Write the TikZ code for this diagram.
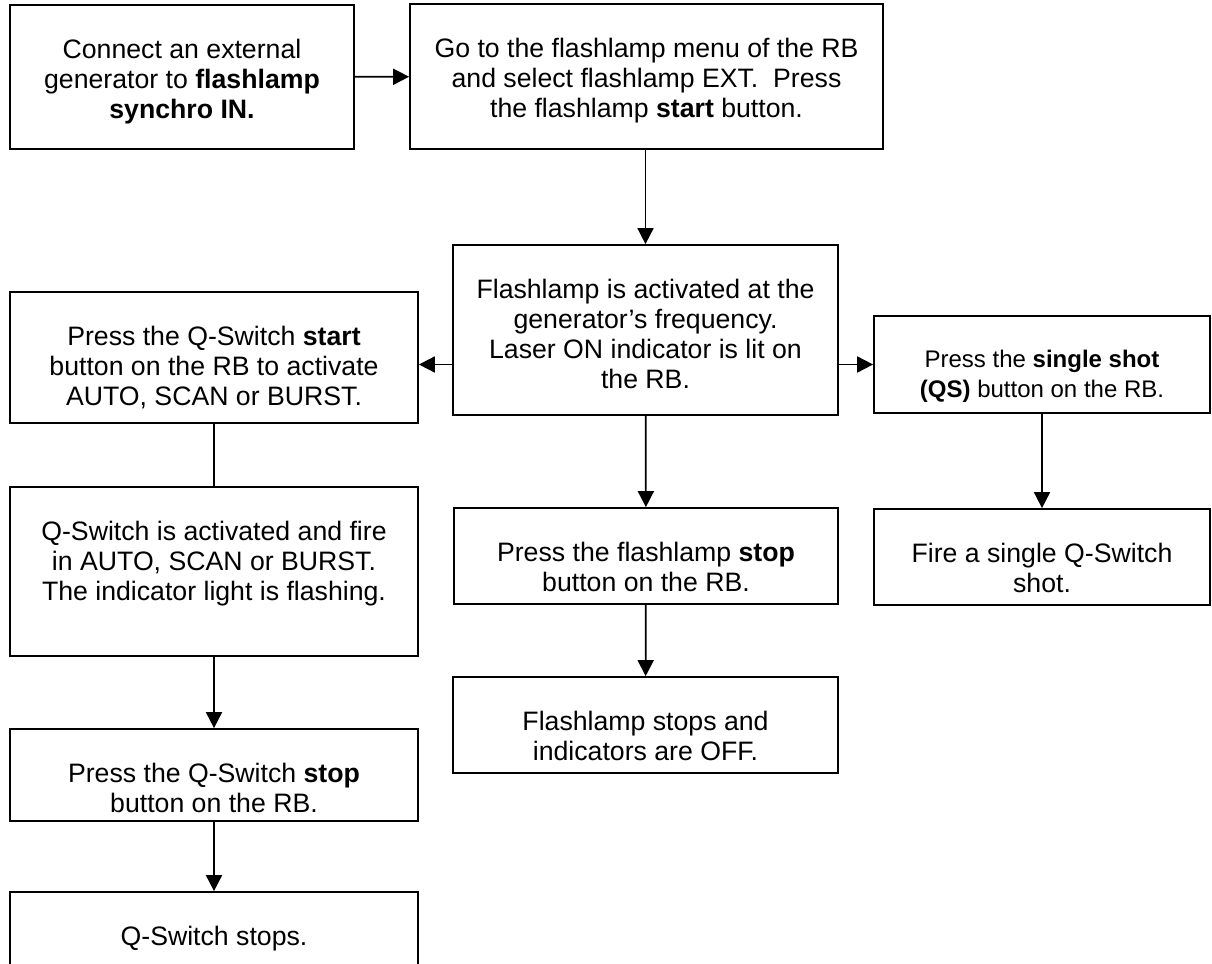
\documentclass[tikz,border=0pt]{standalone}
\usepackage{fontspec}
\setmainfont{Liberation Sans}
\usepackage{tikz}
\usetikzlibrary{arrows.meta}
\tikzset{
  box/.style 2 args={draw, line width=1.3pt, inner sep=0pt,
    minimum width=#1*0.75pt, minimum height=#2*0.75pt},
  words/.style={align=center, inner sep=0pt, anchor=north, yshift=-35*0.75pt,
    font=\fontsize{20}{22.5}\selectfont},
  say/.style={label={[words]north:#1}},
  saysmall/.style={label={[words, font=\fontsize{18}{22.5}\selectfont]north:#1}},
  flow/.style={line width=1.3pt, -{Triangle[length=12pt,width=12pt]}}
}

\begin{document}
\begin{tikzpicture}[x=0.75pt,y=-0.75pt]
        \useasboundingbox[fill=white] (0,0) rectangle (1212,963);
        \node[box={344}{144}, say={Connect an external\\ generator to \textbf{flashlamp}\\ \textbf{synchro IN.}}] (connect) at (182,77) {};
        \node[box={473}{145}, say={Go to the flashlamp menu of the RB\\ and select flashlamp EXT.\ \ Press\\ the flashlamp \textbf{start} button.}] (menu) at (646.5,76.5) {};
        \node[box={385}{170}, say={Flashlamp is activated at the\\ generator’s frequency.\\ Laser ON indicator is lit on\\ the RB.}] (lampon) at (645.5,330) {};
        \node[box={384}{96}, say={Press the flashlamp \textbf{stop}\\ button on the RB.}] (lampstop) at (646,556) {};
        \node[box={385}{96}, say={Flashlamp stops and\\ indicators are OFF.}] (lampoff) at (645.5,725) {};
        \node[box={408}{131}, say={Press the Q-Switch \textbf{start}\\ button on the RB to activate\\ AUTO, SCAN or BURST.}] (qstart) at (214,357.5) {};
        \node[box={408}{169}, say={Q-Switch is activated and fire\\ in AUTO, SCAN or BURST.\\ The indicator light is flashing.}] (qfire) at (214,571.5) {};
        \node[box={408}{92}, say={Press the Q-Switch \textbf{stop}\\ button on the RB.}] (qstop) at (214,775) {};
        \node[box={408}{88}, say={Q-Switch stops.}] (qoff) at (214,936) {};
        \node[box={336}{97}, saysmall={Press the \textbf{single shot}\\ \textbf{(QS)} button on the RB.}] (single) at (1042,364.5) {};
        \node[box={336}{96}, say={Fire a single Q-Switch\\ shot.}] (fire) at (1042,557) {};
        \draw[flow] (connect) -- (menu);
        \draw[flow] (menu.south -| lampon) -- (lampon);
        \draw[flow] (lampon.west |- single) -- (qstart.east |- single);
        \draw[flow] (lampon.east |- single) -- (single);
        \draw[flow] (lampon) -- (lampstop);
        \draw[flow] (lampstop) -- (lampoff);
        \draw[line width=1.3pt] (qstart) -- (qfire);
        \draw[flow] (qfire) -- (qstop);
        \draw[flow] (qstop) -- (qoff);
        \draw[flow] (single) -- (fire);
\end{tikzpicture}
\end{document}
